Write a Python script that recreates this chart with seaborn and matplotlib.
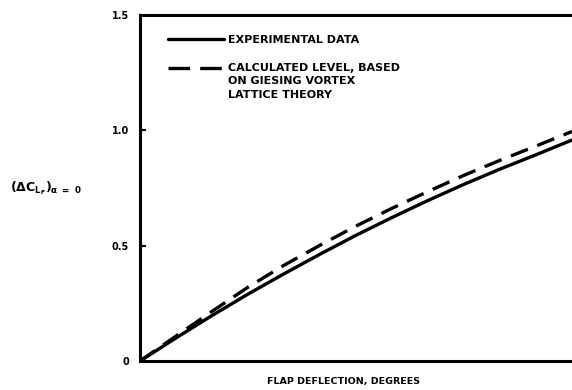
import matplotlib
matplotlib.use("Agg")
import matplotlib.pyplot as plt
from matplotlib.lines import Line2D
import pandas as pd
import seaborn as sns

# Flap deflection (arbitrary degree scale, axis is unlabelled) and lift increment
deflection = [0, 5, 10, 15, 20, 25, 30, 35, 40, 45, 50, 55, 60]
experimental = [0.0, 0.100, 0.197, 0.290, 0.378, 0.463, 0.545, 0.622, 0.696, 0.766, 0.832, 0.894, 0.958]
calculated = [0.0, 0.108, 0.215, 0.320, 0.415, 0.502, 0.585, 0.662, 0.735, 0.805, 0.870, 0.932, 0.995]

series_names = ["EXPERIMENTAL DATA",
                "CALCULATED LEVEL, BASED\nON GIESING VORTEX\nLATTICE THEORY"]
y_ticks = [0, 0.5, 1.0, 1.5]
y_tick_labels = ["0", "0.5", "1.0", "1.5"]

df = pd.concat([
    pd.DataFrame({"deflection": deflection, "dCL": experimental, "series": series_names[0]}),
    pd.DataFrame({"deflection": deflection, "dCL": calculated, "series": series_names[1]}),
])

sns.set_style("white")
plt.rcParams["font.family"] = ["DejaVu Sans"]
plt.rcParams["font.weight"] = "bold"
plt.rcParams["mathtext.default"] = "bf"
for key in ["text.color", "axes.labelcolor", "xtick.color", "ytick.color"]:
    plt.rcParams[key] = "black"

fig = plt.figure(figsize=(5.72, 3.90), dpi=100)
ax = fig.add_axes([140 / 572, 29 / 390, 432 / 572, 346 / 390])

dash = (5.5, 3.0)
sns.lineplot(data=df, x="deflection", y="dCL", style="series",
             dashes={series_names[0]: "", series_names[1]: dash},
             color="black", linewidth=2.4, legend=False, ax=ax, sort=False)

ax.set_xlim(0, 60)
ax.set_ylim(0, 1.5)
ax.set_xticks([])
ax.set_yticks(y_ticks)
ax.set_yticklabels(y_tick_labels, fontsize=7, fontweight="bold")
ax.tick_params(axis="y", direction="in", length=4, width=1.5, pad=8, left=True)

for side in ["left", "bottom", "top"]:
    ax.spines[side].set_linewidth(2.2)
    ax.spines[side].set_color("black")
ax.spines["right"].set_visible(False)

ax.set_xlabel("FLAP DEFLECTION, DEGREES", fontsize=6.8, fontweight="bold")
ax.xaxis.set_label_coords(0.47, -0.045)
ax.set_ylabel(r"$(\Delta C_{L_F})_{\alpha\ =\ 0}$", rotation=0, fontsize=9, ha="left", va="center")
ax.yaxis.set_label_coords(-0.30, 0.50)

# Key in the upper-left corner of the plot area
key_x0, key_x1, text_x = 28 / 432, 84 / 432, 88 / 432
ax.add_line(Line2D([key_x0, key_x1], [1 - 24 / 346] * 2, transform=ax.transAxes,
                   color="black", linewidth=2.4))
ax.add_line(Line2D([key_x0, key_x1], [1 - 53 / 346] * 2, transform=ax.transAxes,
                   color="black", linewidth=2.4, dashes=(6.5, 3.0)))
ax.text(text_x, 1 - 25 / 346, series_names[0], transform=ax.transAxes,
        fontsize=8, fontweight="bold", va="center", ha="left")
ax.text(text_x, 1 - 47.5 / 346, series_names[1], transform=ax.transAxes,
        fontsize=8, fontweight="bold", va="top", ha="left", linespacing=1.45)

fig.savefig("out.png", dpi=100)
